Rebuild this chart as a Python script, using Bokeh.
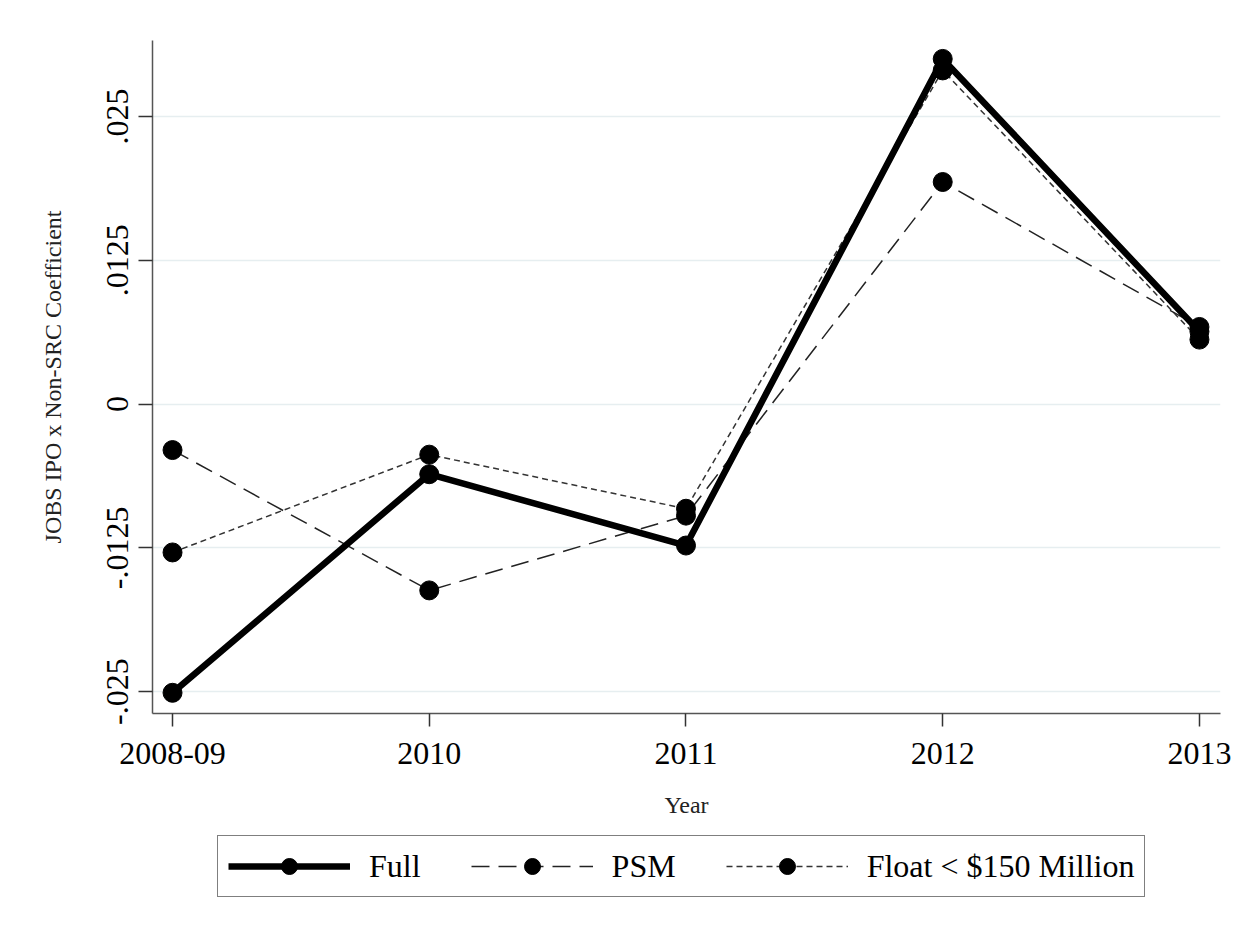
from bokeh.plotting import figure
from bokeh.layouts import column
from bokeh.models import Range1d, FixedTicker, Legend, LegendItem, ColumnDataSource
from bokeh.embed import file_html
from bokeh.resources import INLINE

years = ["2008-09", "2010", "2011", "2012", "2013"]
xpos = [0, 1, 2, 3, 4]
full = [-0.0251, -0.0061, -0.0123, 0.0300, 0.0063]
psm = [-0.0040, -0.0162, -0.0097, 0.0193, 0.0067]
flt = [-0.0129, -0.0044, -0.0091, 0.0290, 0.0056]
yticks = [-0.025, -0.0125, 0, 0.0125, 0.025]
ytick_labels = ["-.025", "-.0125", "0", ".0125", ".025"]
series_labels = ["Full", "PSM", "Float < $150 Million"]
series_cols = ["full", "psm", "flt"]

FONT = "Liberation Serif"

p = figure(width=1249, height=828, output_backend="svg", toolbar_location=None,
           x_range=Range1d(-0.078, 4.082), y_range=Range1d(-0.0269, 0.0316),
           min_border_left=152, min_border_right=29, min_border_top=40, min_border_bottom=115)
p.outline_line_color = None
p.background_fill_color = "white"
p.border_fill_color = "white"

p.xgrid.grid_line_color = None
p.ygrid.grid_line_color = "#e6eef0"
p.ygrid.grid_line_width = 1.5
p.ygrid.ticker = FixedTicker(ticks=yticks)

p.xaxis.ticker = FixedTicker(ticks=xpos)
p.xaxis.major_label_overrides = {i: y for i, y in zip(xpos, years)}
p.yaxis.ticker = FixedTicker(ticks=yticks)
p.yaxis.major_label_overrides = {t: l for t, l in zip(yticks, ytick_labels)}
p.yaxis.major_label_orientation = "vertical"

for ax in (p.xaxis, p.yaxis):
    ax.axis_line_color = "#555555"
    ax.axis_line_width = 1.5
    ax.major_tick_line_color = "#333333"
    ax.major_tick_line_width = 1.5
    ax.minor_tick_line_color = None
    ax.major_tick_in = 0
    ax.major_label_text_font = FONT
    ax.major_label_text_font_size = "32px"
    ax.major_label_text_color = "black"
    ax.axis_label_text_font = FONT
    ax.axis_label_text_font_style = "normal"
    ax.axis_label_text_font_size = "24px"
    ax.axis_label_text_color = "#222222"

p.xaxis.major_tick_out = 13
p.xaxis.major_label_standoff = 16
p.xaxis.axis_label = "Year"
p.xaxis.axis_label_standoff = 25
p.yaxis.major_tick_out = 14
p.yaxis.major_label_standoff = 10
p.yaxis.axis_label = "JOBS IPO x Non-SRC Coefficient"
p.yaxis.axis_label_standoff = 39

src = ColumnDataSource(dict(x=xpos, full=full, psm=psm, flt=flt))

styles = [
    dict(line_color="black", line_width=6.5),
    dict(line_color="#222222", line_width=1.5, line_dash="18 9"),
    dict(line_color="#333333", line_width=1.5, line_dash="6 4"),
]

for col, st in [("psm", styles[1]), ("flt", styles[2]), ("full", styles[0])]:
    p.line("x", col, source=src, **st)
    p.scatter("x", col, source=src, size=19, color="black")

# legend panel below the chart (its ranges keep the series out of view; only the key shows)
lp = figure(width=1249, height=100, output_backend="svg", toolbar_location=None,
            x_axis_type=None, y_axis_type=None, x_range=Range1d(100, 101), y_range=Range1d(100, 101),
            min_border=0)
lp.outline_line_color = None
lp.grid.grid_line_color = None
lp.background_fill_color = "white"
lp.border_fill_color = "white"

items = []
for lab, col, st in zip(series_labels, series_cols, styles):
    rl = lp.line("x", col, source=src, **st)
    rm = lp.scatter("x", col, source=src, size=19, color="black")
    items.append(LegendItem(label=lab, renderers=[rl, rm]))

legend = Legend(items=items, orientation="horizontal", location=(65, 31))
legend.label_text_font = FONT
legend.label_text_font_size = "32px"
legend.label_text_color = "black"
legend.glyph_width = 122
legend.glyph_height = 40
legend.label_standoff = 19
legend.spacing = 50
legend.padding = 10
legend.margin = 0
legend.border_line_color = "black"
legend.border_line_width = 1.5
legend.background_fill_color = "white"
lp.add_layout(legend, "center")

layout = column(p, lp, spacing=0)
open("out.html", "w").write(file_html(layout, INLINE))
